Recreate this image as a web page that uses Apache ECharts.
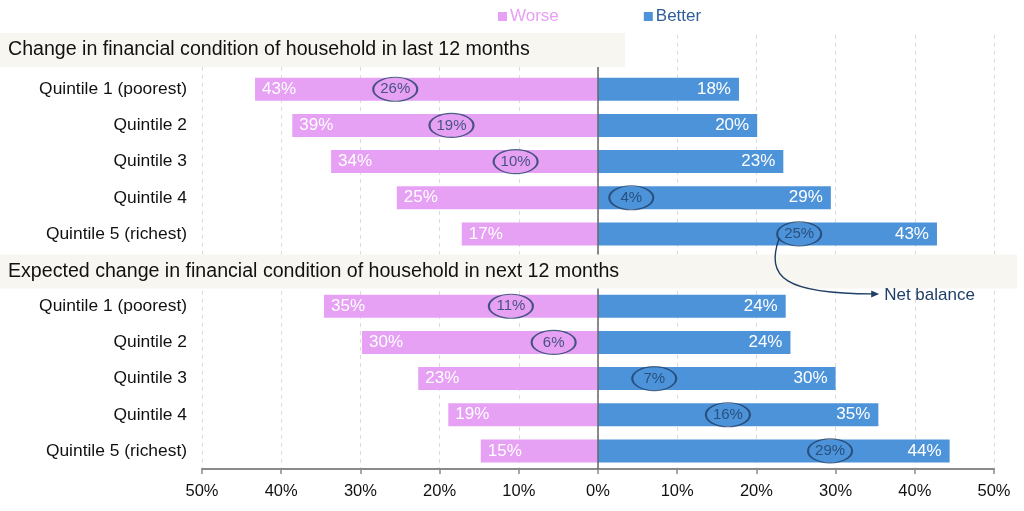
<!DOCTYPE html>
<html>
<head>
<meta charset="utf-8">
<script src="https://cdn.jsdelivr.net/npm/echarts@6/dist/echarts.min.js"></script>
<style>
html,body{margin:0;padding:0;background:#fff;}
#chart{width:1024px;height:511px;}
</style>
</head>
<body>
<div id="chart"></div>
<script>
// ---- Data ----
const headers = [
  'Change in financial condition of household in last 12 months',
  'Expected change in financial condition of household in next 12 months'
];
// row labels (empty string = header row)
const rowLabels = [
  '', 'Quintile 1 (poorest)', 'Quintile 2', 'Quintile 3', 'Quintile 4', 'Quintile 5 (richest)',
  '', 'Quintile 1 (poorest)', 'Quintile 2', 'Quintile 3', 'Quintile 4', 'Quintile 5 (richest)'
];
const headerRows = [0, 6];
// per-quintile values (Q1..Q5), percent
const worseLast = [43.3, 38.6, 33.7, 25.4, 17.2];
const betterLast = [17.8, 20.1, 23.4, 29.4, 42.8];
const netLast = [-25.6, -18.5, -10.4, 4.2, 25.4];
const worseNext = [34.6, 29.8, 22.7, 18.9, 14.8];
const betterNext = [23.7, 24.3, 30.0, 35.4, 44.4];
const netNext = [-11.0, -5.6, 7.1, 16.4, 29.3];
const xTicks = [-50, -40, -30, -20, -10, 0, 10, 20, 30, 40, 50];

const PINK = '#e6a0f4';
const BLUE = '#4d93d9';
const NAVY = '#1f3f66';
const FONT = 'Liberation Sans, Arial, sans-serif';

const rowIds = rowLabels.map((_, i) => 'r' + i);
function rowsFor(arr1, arr2, sign) {
  const out = [];
  out.push(null);
  arr1.forEach(v => out.push(sign * v));
  out.push(null);
  arr2.forEach(v => out.push(sign * v));
  return out;
}
const worseData = rowsFor(worseLast, worseNext, -1);
const betterData = rowsFor(betterLast, betterNext, 1);
const netData = [];
netLast.forEach((v, i) => netData.push([v, rowIds[1 + i]]));
netNext.forEach((v, i) => netData.push([v, rowIds[7 + i]]));

const chart = echarts.init(document.getElementById('chart'), null, {renderer: 'canvas'});
const pct = v => Math.round(Math.abs(v)) + '%';

chart.setOption({
  animation: false,
  textStyle: {fontFamily: FONT},
  legend: {
    top: 3,
    left: 493,
    itemWidth: 9,
    itemHeight: 9,
    itemGap: 85,
    icon: 'rect',
    data: [
      {name: 'Worse', textStyle: {color: PINK}},
      {name: 'Better', textStyle: {color: '#2e5f98'}}
    ],
    textStyle: {fontSize: 17, fontFamily: FONT, padding: [0, 0, 0, -2]}
  },
  grid: {left: 202, right: 30, top: 35, bottom: 42, containLabel: false},
  xAxis: {
    type: 'value',
    min: xTicks[0],
    max: xTicks[xTicks.length - 1],
    interval: 10,
    axisLine: {show: true, lineStyle: {color: '#8a8a8a', width: 2}},
    axisTick: {show: true, length: 5, lineStyle: {color: '#8a8a8a', width: 1.5}},
    axisLabel: {formatter: v => Math.abs(v) + '%', color: '#111', fontSize: 16.5, margin: 14, fontFamily: FONT},
    splitLine: {show: true, lineStyle: {color: '#dcdcdc', type: [4, 4], width: 1}}
  },
  yAxis: {
    type: 'category',
    inverse: true,
    data: rowIds,
    axisLine: {show: false},
    axisTick: {show: false},
    axisLabel: {
      formatter: v => rowLabels[+v.slice(1)],
      color: '#111', fontSize: 17.4, margin: 15, fontFamily: FONT
    },
    splitLine: {show: false}
  },
  series: [
    {
      name: 'Worse',
      type: 'bar',
      data: worseData,
      barWidth: 23,
      barGap: '-100%',
      itemStyle: {color: PINK},
      label: {show: true, position: 'insideLeft', distance: 7, color: '#fff', fontSize: 17,
        formatter: p => pct(p.value), fontFamily: FONT},
      markLine: {
        silent: true,
        symbol: 'none',
        label: {show: false},
        lineStyle: {color: '#666', width: 1.5, type: 'solid'},
        data: [{xAxis: 0}],
        z: 5
      },
      z: 2
    },
    {
      name: 'Better',
      type: 'bar',
      data: betterData,
      barWidth: 23,
      barGap: '-100%',
      itemStyle: {color: BLUE},
      label: {show: true, position: 'insideRight', distance: 8, color: '#fff', fontSize: 17,
        formatter: p => pct(p.value), fontFamily: FONT},
      z: 2
    },
    {
      name: 'Net balance',
      type: 'scatter',
      data: netData,
      symbol: 'circle',
      symbolSize: [44, 24],
      itemStyle: {color: 'rgba(0,0,0,0)', borderColor: NAVY, borderWidth: 1.6},
      label: {show: true, position: 'inside', color: NAVY, fontSize: 15,
        formatter: p => pct(p.value[0]), fontFamily: FONT},
      z: 6
    }
  ]
});

// ---- Header bands and annotation, positioned from the axes ----
function drawOverlay() {
  const els = [];
  const bandRight = [625, 1017];
  const bandShift = [-3, 1.5];
  headerRows.forEach((r, k) => {
    const y = chart.convertToPixel({yAxisIndex: 0}, rowIds[r]) + bandShift[k];
    els.push({
      type: 'rect', z: 50,
      shape: {x: 0, y: y - 17, width: bandRight[k], height: 34},
      style: {fill: '#f8f6f1'}
    });
    els.push({
      type: 'text', z: 51,
      x: 8, y: y,
      style: {text: headers[k], fill: '#111', font: '19.6px ' + FONT, textVerticalAlign: 'middle', textAlign: 'left'}
    });
  });
  // annotation from the Quintile 5 "last 12 months" net balance ellipse
  const p = chart.convertToPixel({gridIndex: 0}, netData[4]);
  const sx = p[0] - 20, sy = p[1] + 4;
  const ex = sx + 100, ey = sy + 56;
  els.push({
    type: 'bezierCurve', z: 60,
    shape: {x1: sx, y1: sy, cpx1: sx - 14, cpy1: sy + 40, cpx2: sx + 6, cpy2: ey, x2: ex - 6, y2: ey},
    style: {stroke: NAVY, lineWidth: 1.4, fill: null}
  });
  els.push({
    type: 'polygon', z: 60,
    shape: {points: [[ex, ey], [ex - 8, ey - 3.5], [ex - 8, ey + 3.5]]},
    style: {fill: NAVY}
  });
  els.push({
    type: 'text', z: 60,
    x: ex + 5, y: ey + 1,
    style: {text: 'Net balance', fill: NAVY, font: '17px ' + FONT, textVerticalAlign: 'middle'}
  });
  chart.setOption({graphic: {elements: els}});
}
drawOverlay();
</script>
</body>
</html>
